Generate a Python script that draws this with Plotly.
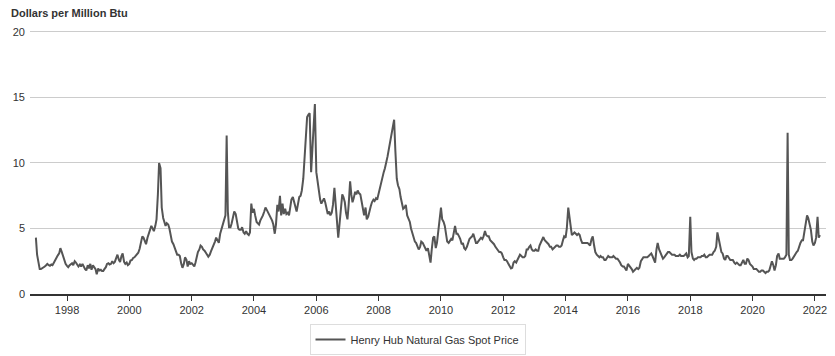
import pandas as pd
import plotly.graph_objects as go

# Semi-monthly Henry Hub spot price readings ($/MMBtu), two values per month
y1997 = [4.3, 3.0, 2.4, 1.9, 1.9, 1.95, 2.0, 2.1, 2.2, 2.3, 2.2, 2.15, 2.25, 2.2, 2.4, 2.6, 2.8, 2.95, 3.1, 3.5, 3.2, 2.9, 2.5, 2.3]
y1998 = [2.15, 2.05, 2.2, 2.3, 2.35, 2.2, 2.5, 2.4, 2.2, 2.1, 2.25, 2.1, 2.3, 2.1, 1.9, 1.8, 2.2, 1.95, 2.3, 1.85, 2.2, 2.05, 1.9, 1.5]
y1999 = [1.95, 1.8, 1.85, 1.75, 1.75, 1.9, 2.05, 2.3, 2.35, 2.25, 2.3, 2.5, 2.35, 2.45, 2.8, 3.0, 2.6, 2.45, 2.9, 3.1, 2.45, 2.3, 2.4, 2.2]
y2000 = [2.3, 2.55, 2.6, 2.75, 2.8, 2.9, 3.0, 3.15, 3.45, 3.9, 4.4, 4.3, 4.0, 3.8, 4.3, 4.6, 4.9, 5.2, 5.0, 4.8, 5.2, 5.7, 7.6, 10.0]
y2001 = [9.6, 6.6, 5.8, 5.4, 5.2, 5.4, 5.3, 5.0, 4.5, 4.0, 3.8, 3.5, 3.2, 3.0, 3.0, 2.9, 2.3, 2.0, 2.3, 2.8, 2.6, 2.1, 2.5, 2.3]
y2002 = [2.35, 2.25, 2.1, 2.4, 2.9, 3.2, 3.4, 3.7, 3.6, 3.4, 3.3, 3.2, 3.0, 2.85, 3.0, 3.25, 3.5, 3.7, 4.0, 4.3, 4.1, 3.9, 4.6, 4.9]
y2003 = [5.3, 5.6, 6.0, 12.1, 6.3, 5.1, 5.1, 5.4, 5.9, 6.3, 6.1, 5.6, 5.0, 4.9, 4.9, 5.1, 4.7, 4.6, 4.8, 4.6, 4.5, 4.7, 6.9, 6.2]
y2004 = [6.5, 6.0, 5.5, 5.4, 5.3, 5.6, 5.8, 6.0, 6.3, 6.6, 6.4, 6.2, 6.0, 5.9, 5.6, 5.3, 4.6, 5.3, 6.8, 6.3, 7.5, 6.0, 6.9, 6.1]
y2005 = [6.5, 6.1, 6.2, 6.0, 6.6, 7.2, 7.4, 7.0, 6.6, 6.3, 6.9, 7.4, 7.5, 7.9, 8.8, 10.3, 11.6, 13.5, 13.7, 13.8, 9.3, 11.0, 13.0, 14.5]
y2006 = [9.3, 8.6, 7.6, 7.2, 6.9, 7.1, 7.3, 7.0, 6.4, 6.1, 6.3, 6.0, 6.2, 6.8, 8.1, 7.0, 5.5, 4.3, 5.4, 6.6, 7.6, 7.4, 7.0, 6.2]
y2007 = [5.7, 6.8, 8.6, 7.6, 7.0, 7.3, 7.8, 7.6, 7.9, 7.7, 7.6, 7.1, 6.5, 6.0, 6.6, 5.7, 5.9, 6.4, 6.7, 7.0, 7.2, 7.1, 7.3, 7.2]
y2008 = [7.7, 7.9, 8.4, 9.0, 9.3, 9.6, 10.0, 10.5, 11.1, 11.6, 12.1, 12.9, 13.3, 11.0, 8.8, 8.3, 8.0, 7.4, 6.9, 6.5, 6.6, 6.8, 6.0, 5.7]
y2009 = [5.5, 5.0, 4.6, 4.3, 4.0, 3.9, 3.6, 3.4, 3.6, 4.0, 3.9, 3.7, 3.5, 3.3, 3.5, 3.1, 2.4, 3.4, 4.3, 4.4, 3.5, 3.9, 5.0, 5.7]
y2010 = [6.6, 5.7, 5.5, 5.2, 4.6, 4.0, 3.9, 4.1, 4.2, 4.1, 4.7, 5.2, 4.6, 4.6, 4.4, 4.2, 3.8, 3.9, 3.5, 3.4, 3.6, 3.9, 4.2, 4.3]
y2011 = [4.4, 4.6, 4.2, 3.9, 3.9, 4.0, 4.2, 4.3, 4.2, 4.4, 4.8, 4.5, 4.4, 4.4, 4.1, 4.0, 3.9, 3.8, 3.6, 3.5, 3.3, 3.2, 3.2, 3.1]
y2012 = [2.8, 2.6, 2.6, 2.5, 2.3, 2.1, 1.95, 2.0, 2.4, 2.5, 2.4, 2.6, 2.9, 3.0, 2.9, 2.8, 2.8, 2.9, 3.4, 3.4, 3.6, 3.7, 3.4, 3.3]
y2013 = [3.3, 3.4, 3.3, 3.3, 3.7, 3.9, 4.1, 4.35, 4.1, 4.0, 3.9, 3.8, 3.6, 3.6, 3.4, 3.5, 3.6, 3.7, 3.7, 3.6, 3.6, 3.7, 4.1, 4.4]
y2014 = [4.3, 5.0, 6.6, 5.8, 4.8, 4.5, 4.6, 4.7, 4.6, 4.5, 4.6, 4.5, 4.1, 3.9, 3.9, 3.9, 3.9, 3.9, 3.8, 3.7, 4.2, 4.4, 3.7, 3.2]
y2015 = [3.0, 2.9, 2.8, 2.9, 2.8, 2.8, 2.6, 2.6, 2.8, 2.9, 2.8, 2.8, 2.8, 2.9, 2.8, 2.7, 2.7, 2.6, 2.4, 2.2, 2.1, 2.1, 1.9, 1.8]
y2016 = [2.3, 2.2, 2.0, 1.9, 1.7, 1.8, 1.9, 2.0, 1.9, 2.0, 2.5, 2.7, 2.8, 2.8, 2.8, 2.8, 2.9, 3.0, 3.1, 2.9, 2.6, 2.4, 3.4, 3.9]
y2017 = [3.4, 3.2, 2.9, 2.7, 2.8, 2.9, 3.1, 3.2, 3.2, 3.1, 3.0, 3.0, 3.0, 2.9, 2.9, 2.9, 3.0, 2.9, 2.9, 2.9, 3.0, 3.1, 2.8, 2.9]
y2018 = [5.9, 3.2, 2.7, 2.6, 2.7, 2.7, 2.8, 2.8, 2.8, 2.9, 2.9, 3.0, 2.8, 2.8, 2.9, 3.0, 3.0, 3.0, 3.2, 3.3, 3.6, 4.7, 4.2, 3.8]
y2019 = [3.2, 3.1, 2.7, 2.6, 2.9, 2.9, 2.7, 2.6, 2.6, 2.6, 2.4, 2.3, 2.4, 2.3, 2.2, 2.2, 2.5, 2.6, 2.3, 2.3, 2.7, 2.6, 2.3, 2.2]
y2020 = [2.1, 1.9, 1.9, 1.9, 1.8, 1.7, 1.7, 1.8, 1.8, 1.7, 1.6, 1.7, 1.7, 1.8, 2.2, 2.5, 2.2, 1.8, 2.2, 2.9, 3.1, 2.7, 2.7, 2.7]
y2021 = [2.7, 2.8, 3.0, 12.3, 3.0, 2.6, 2.6, 2.7, 2.9, 3.0, 3.2, 3.3, 3.7, 3.9, 4.1, 4.1, 4.8, 5.5, 6.0, 5.8, 5.2, 4.9, 4.0, 3.7]
y2022 = [3.9, 4.3, 5.9, 4.3, 4.5]

price = (y1997 + y1998 + y1999 + y2000 + y2001 + y2002 + y2003 + y2004 + y2005
         + y2006 + y2007 + y2008 + y2009 + y2010 + y2011 + y2012 + y2013 + y2014
         + y2015 + y2016 + y2017 + y2018 + y2019 + y2020 + y2021 + y2022)
dates = pd.date_range("1997-01-01", periods=len(price), freq="SMS")

tick_years = list(range(1998, 2023, 2))
tick_vals = [f"{y}-01-01" for y in tick_years]
tick_text = [str(y) for y in tick_years]

font_family = "Liberation Sans, Arial, sans-serif"

fig = go.Figure()
fig.add_trace(go.Scatter(
    x=dates, y=price, mode="lines",
    name="Henry Hub Natural Gas Spot Price",
    line=dict(color="#555555", width=2),
))

fig.update_layout(
    width=835, height=356,
    margin=dict(l=30, r=8, t=28, b=56),
    paper_bgcolor="white", plot_bgcolor="white",
    font=dict(family=font_family, size=11, color="#333333"),
    showlegend=True,
    legend=dict(
        orientation="h", xref="container", x=0.5, xanchor="center",
        yref="container", y=0.09, yanchor="top",
        bordercolor="#dddddd", borderwidth=1, bgcolor="white", itemwidth=30,
        font=dict(size=11, color="#333333"),
    ),
    xaxis=dict(
        range=["1996-10-24", "2022-05-11"],
        tickmode="array", tickvals=tick_vals, ticktext=tick_text,
        showgrid=False, showline=True, linecolor="#333333", linewidth=1.5,
        ticks="outside", ticklen=5, tickcolor="#333333", tickwidth=1,
        tickfont=dict(size=11, color="#333333"), zeroline=False,
    ),
    yaxis=dict(
        range=[0, 20.3], tickvals=[0, 5, 10, 15, 20],
        showgrid=True, gridcolor="#cccccc", gridwidth=1,
        zeroline=False, showline=False, ticks="", ticklabelstandoff=4,
        tickfont=dict(size=11, color="#333333"),
    ),
    annotations=[dict(
        text="<b>Dollars per Million Btu</b>", xref="paper", yref="paper",
        x=-0.026, y=1.055, xanchor="left", yanchor="middle", showarrow=False,
        font=dict(size=11, color="#333333"),
    )],
)

fig.write_html("out.html", config={"displayModeBar": False},
               post_script="document.body.style.margin='0';")
